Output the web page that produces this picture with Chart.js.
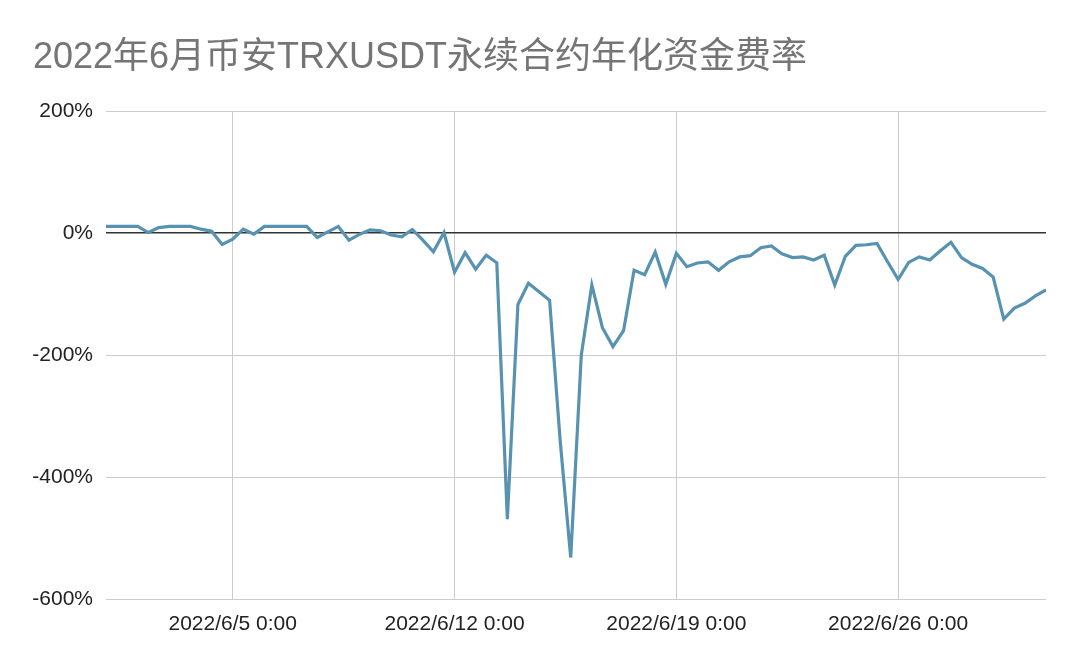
<!DOCTYPE html>
<html>
<head>
<meta charset="utf-8">
<script src="https://cdn.jsdelivr.net/npm/chart.js@4"></script>
<style>
  html, body { margin: 0; padding: 0; background: #fff; }
  #wrap { width: 1080px; height: 668px; }
</style>
</head>
<body>
<div id="wrap"><canvas id="c" width="1080" height="668"></canvas></div>
<script>
const titleText = '2022年6月币安TRXUSDT永续合约年化资金费率';
// funding rate samples every 8h from 2022/6/1 0:00 (annualized, %)
const rates = [
  11, 11, 11, 11, 1, 9, 11, 11, 11, 6.5,
  3, -18.6, -10, 6.5, -1.6, 11, 11, 11, 11, 11,
  -7, 2, 11, -11.5, -2, 5.5, 4, -3, -6, 6,
  -11.5, -30.6, 1, -64, -32, -59, -36, -48.6, -469, -117,
  -82, -96, -110, -340, -532, -200, -85, -155, -186, -160,
  -61, -68, -31, -84, -33, -55, -49, -47, -61, -47,
  -39, -37, -24, -21, -34, -40, -39, -44, -36, -85,
  -38, -20, -19, -17, -47, -76, -48, -39, -44, -29,
  -15, -40, -51, -58, -72, -141, -123, -115, -103, -93
];
const tickIdx = [12, 33, 54, 75];
const tickLabels = ['2022/6/5 0:00', '2022/6/12 0:00', '2022/6/19 0:00', '2022/6/26 0:00'];
const yTicks = [-600, -400, -200, 0, 200];

const points = rates.map((v, i) => ({ x: i, y: v }));
const FONT = '"Liberation Sans", Arial, "Noto Sans CJK SC", sans-serif';

new Chart(document.getElementById('c'), {
  type: 'line',
  data: {
    datasets: [{
      data: points,
      borderColor: '#5792b0',
      borderWidth: 3.2,
      pointRadius: 0,
      tension: 0,
      fill: false
    }]
  },
  options: {
    responsive: false,
    animation: false,
    layout: { padding: { left: 33, right: 34, top: 0, bottom: 0 } },
    plugins: {
      legend: { display: false },
      tooltip: { enabled: false },
      title: {
        display: true,
        text: titleText,
        align: 'start',
        color: '#757575',
        font: { family: FONT, size: 36, weight: 'normal' },
        padding: { top: 36, bottom: 32 }
      }
    },
    scales: {
      x: {
        type: 'linear',
        min: 0,
        max: rates.length - 1,
        afterBuildTicks: (s) => { s.ticks = tickIdx.map(v => ({ value: v })); },
        afterFit: (s) => { s.height = 69; },
        ticks: {
          autoSkip: false,
          maxRotation: 0,
          padding: 13,
          color: '#222',
          font: { family: FONT, size: 21 },
          callback: (v) => tickLabels[tickIdx.indexOf(v)]
        },
        grid: { color: '#cccccc', lineWidth: 1, drawTicks: false },
        border: { display: false }
      },
      y: {
        min: -600,
        max: 200,
        afterBuildTicks: (s) => { s.ticks = yTicks.map(v => ({ value: v })); },
        afterFit: (s) => { s.width = 73; },
        ticks: {
          padding: 13,
          color: '#222',
          font: { family: FONT, size: 21 },
          callback: (v) => v + '%'
        },
        grid: {
          drawTicks: false,
          color: (ctx) => (ctx.tick && ctx.tick.value === 0) ? '#333333' : '#cccccc',
          lineWidth: (ctx) => (ctx.tick && ctx.tick.value === 0) ? 1.5 : 1
        },
        border: { display: false }
      }
    }
  }
});
</script>
</body>
</html>
